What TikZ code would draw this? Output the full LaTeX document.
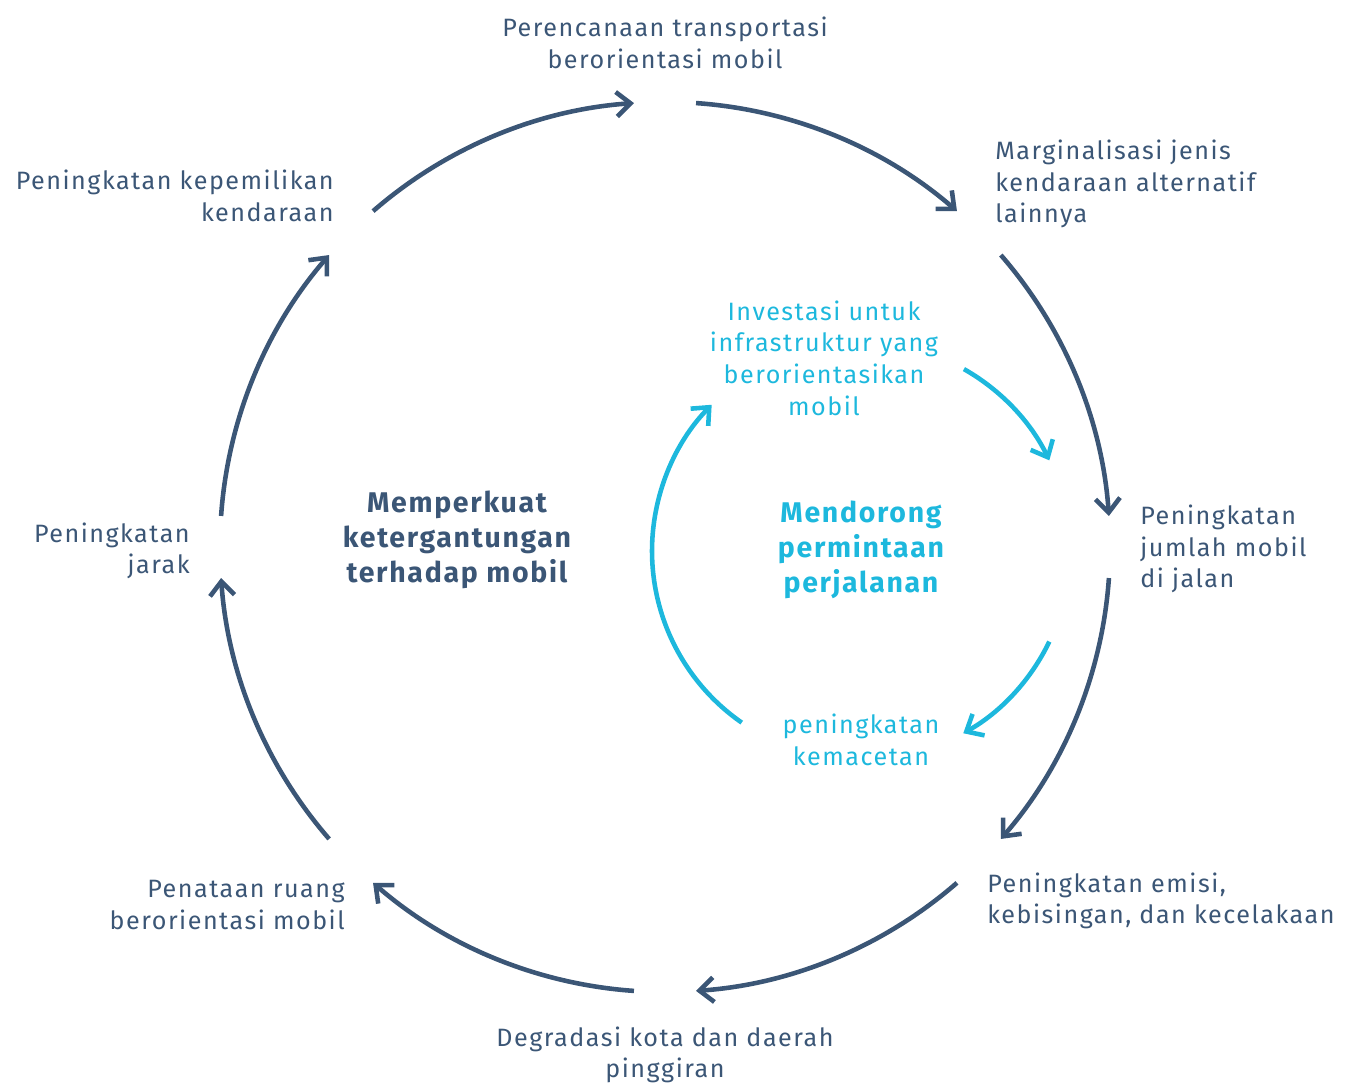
\documentclass[tikz,border=0pt]{standalone}
\usepackage{fontspec}
\setmainfont{Fira Sans}[LetterSpace=6.0]
\usetikzlibrary{arrows.meta}
\definecolor{slate}{HTML}{3B5676}
\definecolor{skyc}{HTML}{1DB8DD}

\begin{document}
\begin{tikzpicture}[x=0.02cm,y=0.02cm,
  outerarc/.style={draw=slate,line width=2.6pt,-{Straight Barb[length=8pt,width=14pt]}},
  innerarc/.style={draw=skyc,line width=2.6pt,-{Straight Barb[length=8pt,width=14pt]}},
  lbl/.style={font=\fontsize{14.3}{18}\selectfont,text=slate,inner sep=0pt},
  ilbl/.style={font=\fontsize{14.3}{18}\selectfont,text=skyc,inner sep=0pt,align=center},
  hub/.style={font=\fontsize{16.2}{19.8}\selectfont\bfseries,inner sep=0pt,align=center}]
\useasboundingbox (0,0) rectangle (1361,1084);
\coordinate (oc) at (665,537);
\coordinate (ic) at (861,533);

% outer loop
\draw[outerarc] ([shift={(131:445)}]oc) arc[start angle=131,end angle=94,radius=445];
\draw[outerarc] ([shift={(86:445)}]oc) arc[start angle=86,end angle=49,radius=445];
\draw[outerarc] ([shift={(41:445)}]oc) arc[start angle=41,end angle=4,radius=445];
\draw[outerarc] ([shift={(-4:445)}]oc) arc[start angle=-4,end angle=-41,radius=445];
\draw[outerarc] ([shift={(-49:445)}]oc) arc[start angle=-49,end angle=-86,radius=445];
\draw[outerarc] ([shift={(-94:445)}]oc) arc[start angle=-94,end angle=-131,radius=445];
\draw[outerarc] ([shift={(-139:445)}]oc) arc[start angle=-139,end angle=-176,radius=445];
\draw[outerarc] ([shift={(176:445)}]oc) arc[start angle=176,end angle=139,radius=445];

% inner loop
\draw[innerarc] ([shift={(60.5:209)}]ic) arc[start angle=60.5,end angle=25.7,radius=209];
\draw[innerarc] ([shift={(-25.7:209)}]ic) arc[start angle=-25.7,end angle=-60.7,radius=209];
\draw[innerarc] ([shift={(-124.8:209)}]ic) arc[start angle=-124.8,end angle=-224.4,radius=209];

\node[lbl,align=center] (perencanaan) at (665,1041) {Perencanaan transportasi\\berorientasi mobil};
\node[lbl,align=left,anchor=west] (marginal) at (995,900) {Marginalisasi jenis\\kendaraan alternatif\\lainnya};
\node[lbl,align=left,anchor=west] (jumlah) at (1140,535) {Peningkatan\\jumlah mobil\\di jalan};
\node[lbl,align=left,anchor=west] (emisi) at (987,183) {Peningkatan emisi,\\kebisingan, dan kecelakaan};
\node[lbl,align=center] (degradasi) at (665,29) {Degradasi kota dan daerah\\pinggiran};
\node[lbl,align=right,anchor=east] (penataan) at (345,179) {Penataan ruang\\berorientasi mobil};
\node[lbl,align=right,anchor=east] (jarak) at (190,533) {Peningkatan\\jarak};
\node[lbl,align=right,anchor=east] (kepemilikan) at (334,888) {Peningkatan kepemilikan\\kendaraan};

\node[ilbl] (investasi) at (824,726) {Investasi untuk\\infrastruktur yang\\berorientasikan\\mobil};
\node[ilbl] (kemacetan) at (861,344) {peningkatan\\kemacetan};
\node[hub,text=skyc] (mendorong) at (861,534) {Mendorong\\permintaan\\perjalanan};
\node[hub,text=slate] (memperkuat) at (457,544) {Memperkuat\\ketergantungan\\terhadap mobil};
\end{tikzpicture}
\end{document}
